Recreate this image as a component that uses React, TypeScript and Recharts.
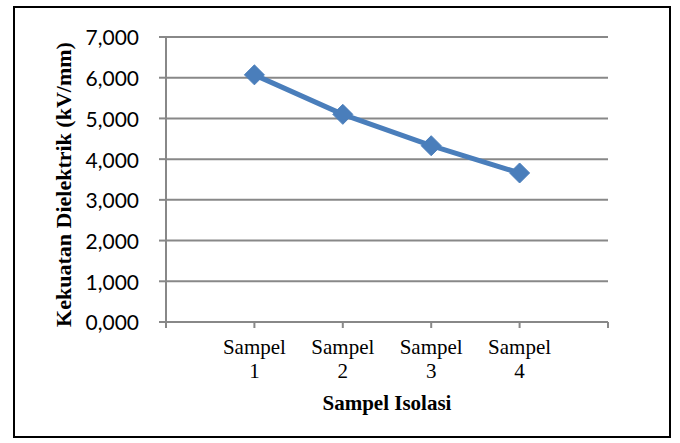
import React from "react";
import { LineChart, Line, XAxis, YAxis, CartesianGrid } from "recharts";

const categories = ["Sampel 1", "Sampel 2", "Sampel 3", "Sampel 4"];
const values = [6.07, 5.1, 4.33, 3.66];
const yTicks = [0, 1, 2, 3, 4, 5, 6, 7];
const xTicks = [0, 1, 2, 3, 4, 5];
const yTitle = "Kekuatan Dielektrik (kV/mm)";
const xTitle = "Sampel Isolasi";

const data = categories.map((c, i) => ({ pos: i + 1, name: c, value: values[i] }));

const SERIF = "'Liberation Serif', 'Times New Roman', serif";
const SANS = "Lato, 'Liberation Sans', sans-serif";
const GRAY = "#888888";
const BLUE = "#4a7ebb";

const XTick = (props: any) => {
  const { x, y, payload } = props;
  const label = categories[payload.value - 1];
  if (!label) return null;
  const parts = label.split(" ");
  return (
    <text x={x} y={y} textAnchor="middle" fontFamily={SERIF} fontSize={21} fill="#000">
      <tspan x={x} dy={24}>{parts[0]}</tspan>
      <tspan x={x} dy={24}>{parts[1]}</tspan>
    </text>
  );
};

const Diamond = (props: any) => {
  const { cx, cy } = props;
  if (cx == null || cy == null) return null;
  const r = 10;
  return (
    <polygon
      points={`${cx},${cy - r} ${cx + r},${cy} ${cx},${cy + r} ${cx - r},${cy}`}
      fill={BLUE}
      stroke={BLUE}
      strokeWidth={1}
    />
  );
};

export default function App() {
  return (
    <div style={{ position: "absolute", left: 0, top: 0, width: 680, height: 443, background: "#fff" }}>
      <div
        style={{
          position: "absolute",
          left: 13,
          top: 6,
          width: 658,
          height: 432,
          border: "2px solid #000",
          boxSizing: "border-box",
        }}
      />
      <div style={{ position: "absolute", left: 0, top: 0 }}>
        <LineChart
          width={680}
          height={443}
          data={data}
          margin={{ top: 37, right: 72, bottom: 41, left: 86 }}
        >
          <CartesianGrid vertical={false} stroke={GRAY} strokeWidth={2} />
          <XAxis
            dataKey="pos"
            type="number"
            domain={[0, 5]}
            ticks={xTicks}
            interval={0}
            height={80}
            axisLine={{ stroke: GRAY, strokeWidth: 2 }}
            tickLine={{ stroke: GRAY, strokeWidth: 2 }}
            tickSize={6}
            tick={<XTick />}
            label={{
              content: (p: any) => {
                const vb = p.viewBox;
                return (
                  <text
                    x={vb.x + vb.width / 2}
                    y={vb.y + 88}
                    textAnchor="middle"
                    fontFamily={SERIF}
                    fontWeight="bold"
                    fontSize={21}
                    fill="#000"
                  >
                    {xTitle}
                  </text>
                );
              },
            }}
          />
          <YAxis
            type="number"
            domain={[0, 7]}
            ticks={yTicks}
            interval={0}
            width={80}
            axisLine={{ stroke: GRAY, strokeWidth: 2 }}
            tickLine={{ stroke: GRAY, strokeWidth: 2 }}
            tickSize={7}
            tickMargin={20}
            tickFormatter={(v: number) => v.toFixed(3).replace(".", ",")}
            tick={{ fontFamily: SANS, fontSize: 21, fill: "#000", dy: 1 }}
            label={{
              content: (p: any) => {
                const vb = p.viewBox;
                const cx = 63;
                const cy = vb.y + vb.height / 2 + 5;
                return (
                  <text
                    x={cx}
                    y={cy}
                    transform={`rotate(-90 ${cx} ${cy})`}
                    textAnchor="middle"
                    dominantBaseline="central"
                    fontFamily={SERIF}
                    fontWeight="bold"
                    fontSize={22}
                    fill="#000"
                  >
                    {yTitle}
                  </text>
                );
              },
            }}
          />
          <Line
            type="linear"
            dataKey="value"
            stroke={BLUE}
            strokeWidth={5}
            dot={<Diamond />}
            activeDot={false}
            isAnimationActive={false}
          />
        </LineChart>
      </div>
    </div>
  );
}
